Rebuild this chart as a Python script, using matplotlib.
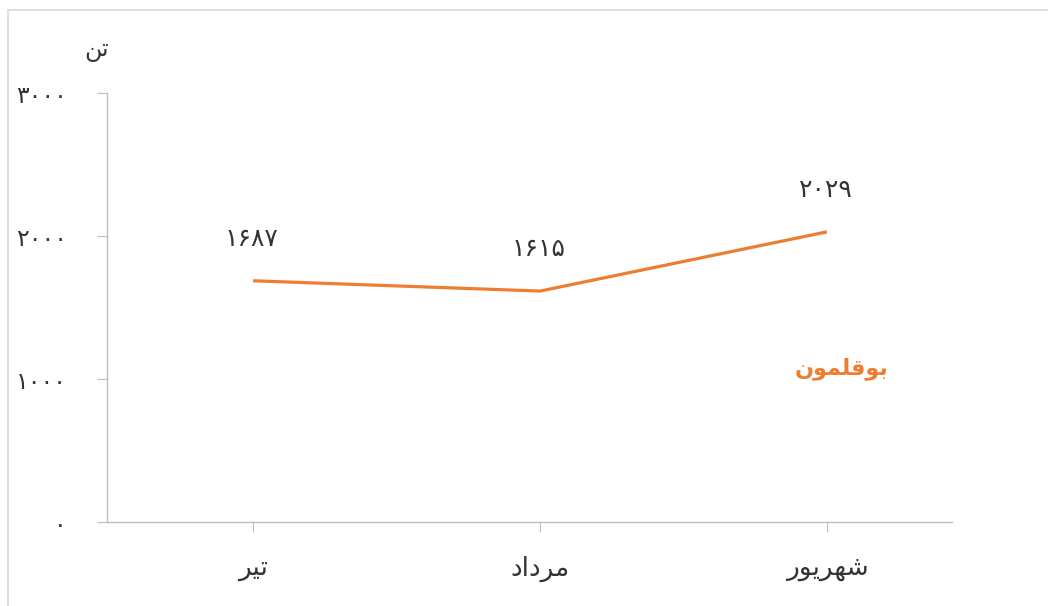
import matplotlib
matplotlib.use("Agg")
import matplotlib.pyplot as plt
from matplotlib.lines import Line2D

# Persian text written in presentation forms, visual (left-to-right) order,
# because matplotlib does no Arabic shaping itself
months = ["\uFEAE\uFBFF\uFE97",                          # تیر
          "\uFEA9\uFE8D\uFEA9\uFEAE\uFEE3",              # مرداد
          "\uFEAD\uFEEE\uFBFE\uFEAE\uFEEC\uFEB7"]        # شهریور
values = [1687, 1615, 2029]
value_labels = ["\u06F1\u06F6\u06F8\u06F7", "\u06F1\u06F6\u06F1\u06F5", "\u06F2\u06F0\u06F2\u06F9"]
y_ticks = [0, 1000, 2000, 3000]
y_tick_labels = ["\u06F0", "\u06F1\u06F0\u06F0\u06F0", "\u06F2\u06F0\u06F0\u06F0", "\u06F3\u06F0\u06F0\u06F0"]
series_name = "\uFEE5\uFEEE\uFEE4\uFEE0\uFED7\uFEEE\uFE91"  # بوقلمون
unit = "\uFEE6\uFE97"  # تن

plt.rcParams["font.family"] = ["DejaVu Sans"]
orange = "#ED7D31"
axis_gray = "#BFBFBF"
text_col = "#333333"

fig = plt.figure(figsize=(10.48, 6.06), dpi=100)
ax = fig.add_axes([0.1021, 0.1386, 0.8063, 0.7079])

x = list(range(len(months)))
ax.plot(x, values, color=orange, linewidth=2.3, solid_capstyle="butt")

for xi, v, lab in zip(x, values, value_labels):
    ax.annotate(lab, (xi, v), xytext=(-1, 30), textcoords="offset points",
                ha="center", va="center", fontsize=18, color=text_col)

ax.set_xlim(-0.509, 2.436)
ax.set_ylim(0, 3000)
ax.set_xticks(x)
ax.set_xticklabels(months, fontsize=19, color=text_col)
ax.set_yticks(y_ticks)
ax.set_yticklabels(y_tick_labels, fontsize=17, color=text_col, va="center_baseline")

for side in ["top", "right"]:
    ax.spines[side].set_visible(False)
for side in ["left", "bottom"]:
    ax.spines[side].set_color(axis_gray)
    ax.spines[side].set_linewidth(1.0)
ax.tick_params(axis="y", length=7, color=axis_gray, pad=22)
ax.tick_params(axis="x", length=7, color=axis_gray, pad=17)

ax.text(2.05, 1070, series_name, ha="center", va="center", fontsize=16,
        color=orange, fontweight="bold")

fig.text(97 / 1048, 1 - 50 / 606, unit, ha="center", va="center", fontsize=17, color=text_col)

# light frame around the picture
fig.add_artist(Line2D([8 / 1048, 8 / 1048], [0, 1 - 10 / 606], transform=fig.transFigure,
                      color="#D9D9D9", linewidth=1.2))
fig.add_artist(Line2D([8 / 1048, 1], [1 - 10 / 606, 1 - 10 / 606], transform=fig.transFigure,
                      color="#D9D9D9", linewidth=1.2))

fig.savefig("out.png", dpi=100)
plt.close(fig)
